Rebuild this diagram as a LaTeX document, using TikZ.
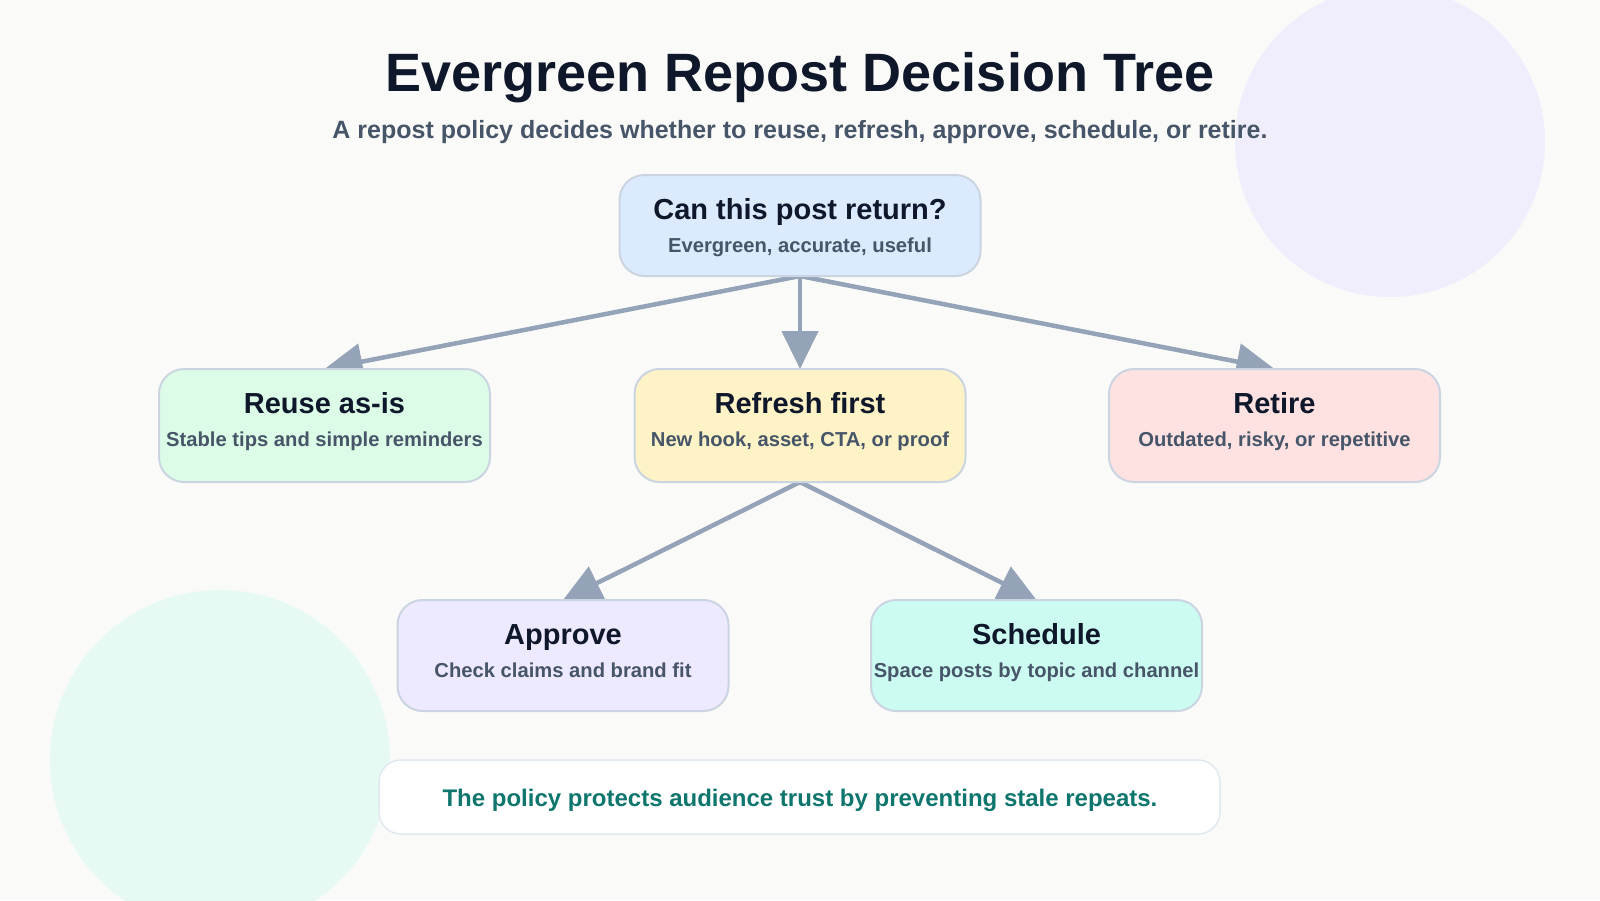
\documentclass[tikz,border=0pt]{standalone}
\usepackage{fontspec}
\setmainfont{Liberation Sans}
\usetikzlibrary{arrows.meta,calc}
\definecolor{bgc}{HTML}{FAFAF9}
\definecolor{titlec}{HTML}{0F172A}
\definecolor{subc}{HTML}{475569}
\definecolor{borderc}{HTML}{CBD5E1}
\definecolor{arrowc}{HTML}{94A3B8}
\definecolor{topfill}{HTML}{DBEAFE}
\definecolor{reusefill}{HTML}{DCFCE7}
\definecolor{refreshfill}{HTML}{FEF3C7}
\definecolor{retirefill}{HTML}{FEE2E2}
\definecolor{approvefill}{HTML}{EDE9FE}
\definecolor{schedfill}{HTML}{CCFBF1}
\definecolor{footborder}{HTML}{E2E8F0}
\definecolor{foottext}{HTML}{0F766E}
\definecolor{circA}{HTML}{F0EEFC}
\definecolor{circB}{HTML}{E6FAF3}
\begin{document}
\begin{tikzpicture}[x=1pt,y=-1pt,
  decisionbox/.style={draw=borderc, line width=2pt, rounded corners=25pt, inner sep=0pt},
  nodetitle/.style={anchor=base, inner sep=0pt, text=titlec, font=\bfseries\fontsize{29}{34}\selectfont},
  nodesub/.style={anchor=base, inner sep=0pt, text=subc, font=\bfseries\fontsize{20.2}{24}\selectfont},
  branch/.style={draw=arrowc, line width=4.5pt, -{Triangle[length=38pt,width=36pt]}}]
\useasboundingbox (0,0) rectangle (1600,900);
\fill[bgc] (0,0) rectangle (1600,900);
\fill[circA] (1390,142) circle[radius=155];
\fill[circB] (220,760) circle[radius=170];
% title
\node[anchor=base, inner sep=0pt, text=titlec, font=\bfseries\fontsize{54}{60}\selectfont] (title) at (800,91) {Evergreen Repost Decision Tree};
\node[anchor=base, inner sep=0pt, text=subc, font=\bfseries\fontsize{25}{29}\selectfont] (subtitle) at (800,138) {A repost policy decides whether to reuse, refresh, approve, schedule, or retire.};
% arrow end points
\coordinate (topS) at (800,276);
\coordinate (reuseN) at (324.5,369);
\coordinate (refreshN) at (800,369);
\coordinate (retireN) at (1274.5,369);
\coordinate (refreshS) at (800,482);
\coordinate (approveN) at (563,600);
\coordinate (schedN) at (1036.5,600);
\draw[branch] (topS) -- (reuseN);
\draw[branch] (topS) -- (refreshN);
\draw[branch] (topS) -- (retireN);
\draw[branch] (refreshS) -- (approveN);
\draw[branch] (refreshS) -- (schedN);
% nodes
\node[decisionbox, fill=topfill, minimum width=361pt, minimum height=101pt] (top) at (800,225.5) {};
\node[decisionbox, fill=reusefill, minimum width=331pt, minimum height=113pt] (reuse) at (324.5,425.5) {};
\node[decisionbox, fill=refreshfill, minimum width=331pt, minimum height=113pt] (refresh) at (800,425.5) {};
\node[decisionbox, fill=retirefill, minimum width=331pt, minimum height=113pt] (retire) at (1274.5,425.5) {};
\node[decisionbox, fill=approvefill, minimum width=331pt, minimum height=111pt] (approve) at (563,655.5) {};
\node[decisionbox, fill=schedfill, minimum width=331pt, minimum height=111pt] (sched) at (1036.5,655.5) {};
% texts
\node[nodetitle] (topT) at ($(top.north)+(0,45)$) {Can this post return?};
\node[nodesub] (topD) at ($(top.north)+(0,78)$) {Evergreen, accurate, useful};
\node[nodetitle] (reuseT) at ($(reuse.north)+(0,45)$) {Reuse as-is};
\node[nodesub] (reuseD) at ($(reuse.north)+(0,78)$) {Stable tips and simple reminders};
\node[nodetitle] (refreshT) at ($(refresh.north)+(0,45)$) {Refresh first};
\node[nodesub] (refreshD) at ($(refresh.north)+(0,78)$) {New hook, asset, CTA, or proof};
\node[nodetitle] (retireT) at ($(retire.north)+(0,45)$) {Retire};
\node[nodesub] (retireD) at ($(retire.north)+(0,78)$) {Outdated, risky, or repetitive};
\node[nodetitle] (approveT) at ($(approve.north)+(0,45)$) {Approve};
\node[nodesub] (approveD) at ($(approve.north)+(0,78)$) {Check claims and brand fit};
\node[nodetitle] (schedT) at ($(sched.north)+(0,45)$) {Schedule};
\node[nodesub] (schedD) at ($(sched.north)+(0,78)$) {Space posts by topic and channel};
% footer
\node[draw=footborder, line width=1.5pt, fill=white, rounded corners=22pt, minimum width=841pt, minimum height=74pt, inner sep=0pt] (footer) at (799.5,797) {};
\node[anchor=base, inner sep=0pt, text=foottext, font=\bfseries\fontsize{24}{28}\selectfont] (footT) at (800,806) {The policy protects audience trust by preventing stale repeats.};
\end{tikzpicture}
\end{document}
